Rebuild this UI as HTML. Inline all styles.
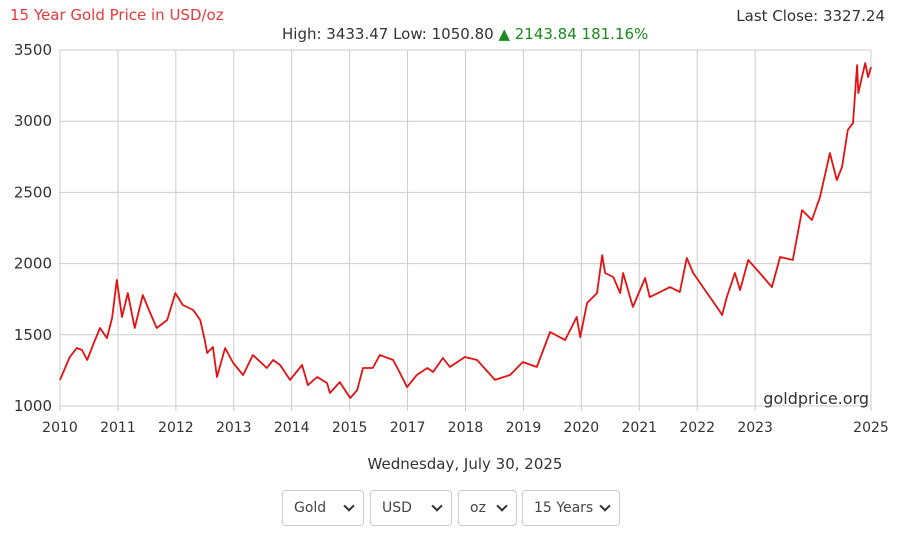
<!DOCTYPE html>
<html><head><meta charset="utf-8"><style>
body{margin:0;background:#fff;width:909px;height:537px;overflow:hidden;font-family:"DejaVu Sans","Liberation Sans",sans-serif}
.sel{position:absolute;top:490px;height:36px;border:1px solid #ccc;border-radius:4px;box-sizing:border-box;font-size:14px;color:#444;line-height:34px;padding-left:11px;background:#fff}
.sel span{position:absolute;right:10px;top:11px;width:6px;height:6px;border-right:2px solid #333;border-bottom:2px solid #333;transform:rotate(45deg)}
</style></head><body>
<svg width="909" height="537" style="position:absolute;left:0;top:0">
<g id="grid"></g><g id="labels"></g><path id="line" fill="none" stroke="#e31212" stroke-width="1.8" stroke-linejoin="round"/>
<text x="10" y="20" fill="#e8393c" font-size="15">15 Year Gold Price in USD/oz</text>
<text x="885" y="21" fill="#333" font-size="15" text-anchor="end">Last Close: 3327.24</text>
<text x="282" y="39" fill="#333" font-size="15">High: 3433.47 Low: 1050.80 <tspan fill="#1a8a1a">▲ 2143.84 181.16%</tspan></text>
<text x="869" y="404" fill="#333" font-size="16" text-anchor="end">goldprice.org</text>
<text x="465" y="469" fill="#333" font-size="15" text-anchor="middle">Wednesday, July 30, 2025</text>
</svg>
<div class="sel" style="left:282px;width:82px">Gold<span></span></div>
<div class="sel" style="left:370px;width:82px">USD<span></span></div>
<div class="sel" style="left:458px;width:59px">oz<span></span></div>
<div class="sel" style="left:522px;width:98px">15 Years<span></span></div>
<script>
const yTicks=[1000,1500,2000,2500,3000,3500];
const xTickLabels=["2010","2011","2012","2013","2014","2015","2017","2018","2019","2020","2021","2022","2023","","2025"];
const times=[0,.17,.29,.38,.47,.57,.69,.81,.90,.98,1.07,1.17,1.29,1.43,1.55,1.67,1.85,1.99,2.12,2.30,2.42,2.50,2.54,2.64,2.71,2.85,2.99,3.16,3.33,3.57,3.68,3.80,3.97,4.18,4.28,4.44,4.61,4.66,4.83,5.01,5.13,5.23,5.40,5.52,5.75,5.87,5.99,6.16,6.34,6.44,6.61,6.73,6.99,7.20,7.51,7.77,7.99,8.23,8.46,8.72,8.92,8.98,9.10,9.27,9.36,9.41,9.55,9.67,9.72,9.89,10.10,10.18,10.36,10.53,10.70,10.82,10.93,11.17,11.34,11.43,11.51,11.65,11.74,11.88,12.08,12.29,12.43,12.65,12.81,12.98,13.12,13.29,13.41,13.50,13.60,13.69,13.76,13.78,13.90,13.95,14.00];
const prices=[1183,1344,1407,1393,1323,1428,1548,1477,1618,1885,1625,1793,1548,1779,1660,1548,1604,1793,1709,1674,1604,1463,1372,1414,1204,1407,1302,1218,1358,1267,1323,1288,1183,1288,1147,1204,1161,1091,1168,1056,1112,1267,1267,1358,1323,1232,1133,1218,1267,1239,1337,1274,1344,1323,1183,1218,1309,1274,1520,1463,1625,1484,1723,1793,2060,1934,1906,1793,1934,1695,1899,1765,1800,1835,1800,2039,1934,1793,1695,1639,1765,1934,1814,2025,1934,1835,2046,2025,2376,2306,2467,2776,2587,2678,2938,2987,3394,3197,3408,3310,3380];
const L=60,R=871,T=50,B=406;
const xs=t=>L+(R-L)*t/14, ys=v=>B-(B-T)*(v-1000)/2500;
const ns="http://www.w3.org/2000/svg";
const g=document.getElementById('grid'),lb=document.getElementById('labels');
yTicks.forEach(v=>{
 const l=document.createElementNS(ns,'line');
 
 
 l.setAttribute('x1',L);l.setAttribute('x2',R);l.setAttribute('y1',ys(v));l.setAttribute('y2',ys(v));l.setAttribute('stroke','#ccc');g.appendChild(l);
 const t=document.createElementNS(ns,'text');
 
 
 t.setAttribute('x',52);t.setAttribute('y',ys(v)+5);t.setAttribute('text-anchor','end');t.setAttribute('font-size','15');t.setAttribute('fill','#333');t.textContent=v;lb.appendChild(t);
});
xTickLabels.forEach((s,i)=>{
 if(s==="")return;
 const l=document.createElementNS(ns,'line');
 
 
 l.setAttribute('x1',xs(i));l.setAttribute('x2',xs(i));l.setAttribute('y1',T);l.setAttribute('y2',B+5);l.setAttribute('stroke','#ccc');g.appendChild(l);
 const t=document.createElementNS(ns,'text');
 
 
 t.setAttribute('x',xs(i));t.setAttribute('y',432);t.setAttribute('text-anchor','middle');t.setAttribute('font-size','14');t.setAttribute('fill','#333');t.textContent=s;lb.appendChild(t);
});
document.getElementById('line').setAttribute('d',times.map((t,i)=>(i?'L':'M')+xs(t).toFixed(1)+' '+ys(prices[i]).toFixed(1)).join(''));
</script>
</body></html>
